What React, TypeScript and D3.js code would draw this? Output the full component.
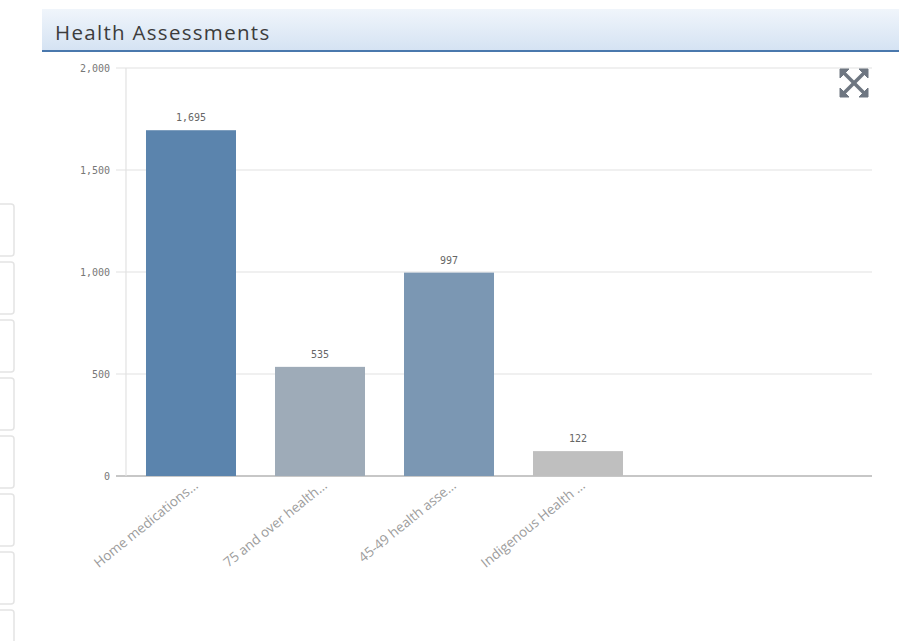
import React from "react";
import * as d3 from "d3";

const categories = ["Home medications...", "75 and over health...", "45-49 health asse...", "Indigenous Health ..."];
const values = [1695, 535, 997, 122];
const barColors = ["#5b84ad", "#9eabb8", "#7b97b3", "#bfbfbf"];
const yTicks = [0, 500, 1000, 1500, 2000];

export default function App() {
  const W = 899, H = 641;
  const left = 126, right = 872, top = 68, bottom = 476;
  const y = d3.scaleLinear().domain([0, 2000]).range([bottom, top]);
  const x = d3.scaleBand<string>().domain(categories).range([left, 643]).paddingInner(0.3023).paddingOuter(0.155);
  const fmt = d3.format(",");
  const mono = "'DejaVu Sans Mono', 'Liberation Mono', monospace";
  const sideBoxes = d3.range(8).map((i) => 204 + i * 58);
  return (
    <svg width={W} height={H} style={{ position: "absolute", left: 0, top: 0, display: "block", background: "#fff" }}>
      <defs>
        <linearGradient id="hdr" x1="0" y1="0" x2="0" y2="1">
          <stop offset="0" stopColor="#f0f5fb" />
          <stop offset="1" stopColor="#d5e3f3" />
        </linearGradient>
      </defs>
      <rect x={42} y={9} width={W - 42} height={41} fill="url(#hdr)" />
      <rect x={42} y={50} width={W - 42} height={2} fill="#4a78ad" />
      <text x={55} y={40} fontFamily="'Open Sans', sans-serif" fontSize={20.5} letterSpacing={1.3} fill="#3c3c3c">Health Assessments</text>

      {sideBoxes.map((sy, i) => (
        <rect key={i} x={-20} y={sy} width={34} height={52} rx={3} fill="none" stroke="#e4e4e4" strokeWidth={1.5} />
      ))}

      {yTicks.map((t) => (
        <g key={t}>
          <line x1={116} x2={right} y1={y(t)} y2={y(t)} stroke={t === 0 ? "#b4b4b4" : "#e2e2e2"} strokeWidth={t === 0 ? 1.5 : 1.2} />
          <text x={110} y={y(t) + 3.5} textAnchor="end" fontFamily={mono} fontSize={10} fill="#777">{fmt(t)}</text>
        </g>
      ))}
      <line x1={left} x2={left} y1={top} y2={bottom} stroke="#e2e2e2" strokeWidth={1.2} />

      {categories.map((c, i) => (
        <g key={c}>
          <rect x={x(c)} y={y(values[i])} width={x.bandwidth()} height={bottom - y(values[i])} fill={barColors[i]} />
          <text x={(x(c) as number) + x.bandwidth() / 2} y={y(values[i]) - 9} textAnchor="middle" fontFamily={mono} fontSize={10} fill="#666">{fmt(values[i])}</text>
          <text transform={`translate(${(x(c) as number) + x.bandwidth() / 2 + 8},${bottom + 11}) rotate(-39)`} textAnchor="end" fontFamily="'Open Sans', sans-serif" fontSize={13.5} fill="#9c9c9c">{c}</text>
        </g>
      ))}

      <g transform="translate(854,83)" stroke="#6e7681" fill="#6e7681">
        <line x1={-10} y1={-10} x2={10} y2={10} strokeWidth={3.5} />
        <line x1={10} y1={-10} x2={-10} y2={10} strokeWidth={3.5} />
        <path d="M-14,-14 L-5,-14 L-14,-5 Z" strokeWidth={1} />
        <path d="M14,-14 L5,-14 L14,-5 Z" strokeWidth={1} />
        <path d="M-14,14 L-5,14 L-14,5 Z" strokeWidth={1} />
        <path d="M14,14 L5,14 L14,5 Z" strokeWidth={1} />
      </g>
    </svg>
  );
}
